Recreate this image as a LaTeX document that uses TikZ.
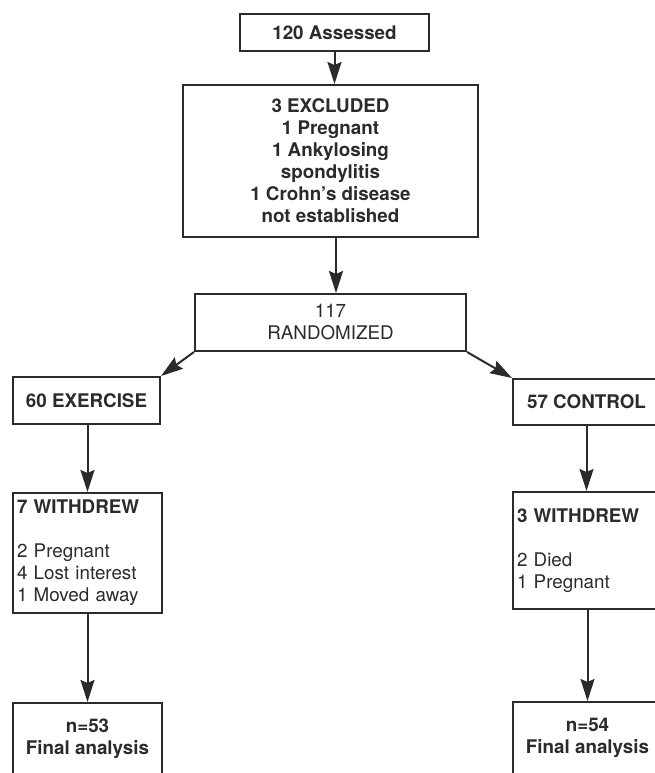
\documentclass[tikz,border=0pt]{standalone}
\usepackage{fontspec}
\setmainfont{TeX Gyre Heros}
\usetikzlibrary{arrows.meta,calc}
\definecolor{ink}{HTML}{2B2B2B}
\tikzset{
  box/.style={draw=ink, line width=2pt, rectangle, inner xsep=4pt, inner ysep=0pt, text=ink,
    font=\fontsize{18.8}{22}\selectfont},
  boldbox/.style={box, font=\fontsize{18.8}{22}\selectfont\bfseries},
  arr/.style={draw=ink, line width=2pt, -{Stealth[length=22pt,width=14pt,inset=3pt]}}
}
\begin{document}
\begin{tikzpicture}[x=1pt,y=-1pt]
\useasboundingbox (0,0) rectangle (655,773);
\clip (0,0) rectangle (655,773);
% boxes
\node[boldbox, minimum width=189pt, minimum height=37pt] (a1) at (334.5,32.5) {120 Assessed};
\node[boldbox, minimum width=295pt, minimum height=152pt, align=center] (a2) at (330.5,161)
  {3 EXCLUDED\\1 Pregnant\\1 Ankylosing\\spondylitis\\1 Crohn's disease\\not established};
\node[box, minimum width=271pt, minimum height=57pt, align=center] (a3) at (330.5,322.5)
  {117\\RANDOMIZED};
\node[boldbox, minimum width=147pt, minimum height=47pt] (ex) at (86.5,400.5)
  {60 EXERCISE};
\node[boldbox, minimum width=147pt, minimum height=46pt] (ct) at (586.5,402)
  {57 CONTROL};
\node[box, minimum width=149pt, minimum height=120pt, text width=141pt, align=left] (w1) at (87.5,553)
  {\textbf{7 WITHDREW}\\[22pt]2 Pregnant\\4 Lost interest\\1 Moved away};
\node[box, minimum width=149pt, minimum height=117pt, text width=141pt, align=left] (w2) at (587.5,550.5)
  {\textbf{3 WITHDREW}\\[22pt]2 Died\\1 Pregnant};
\node[boldbox, minimum width=149pt, minimum height=72pt, align=center] (f1) at (87.5,739)
  {n=53\\Final analysis};
\node[boldbox, minimum width=149pt, minimum height=72pt, align=center] (f2) at (587.5,738)
  {n=54\\Final analysis};
% arrows
\draw[arr] (a1.south) -- (a1.south |- a2.north);
\draw[arr] ($(a2.south)+(5.5,0)$) -- ($(a3.north)+(5.5,0)$);
\draw[arr] (a3.south west) -- (ex.north east);
\draw[arr] (a3.south east) -- (ct.north west);
\draw[arr] (w1.north |- ex.south) -- (w1.north);
\draw[arr] (w1.south) -- (f1.north);
\draw[arr] (ct.south) -- (ct.south |- w2.north);
\draw[arr] (w2.south) -- (f2.north);
\end{tikzpicture}
\end{document}
